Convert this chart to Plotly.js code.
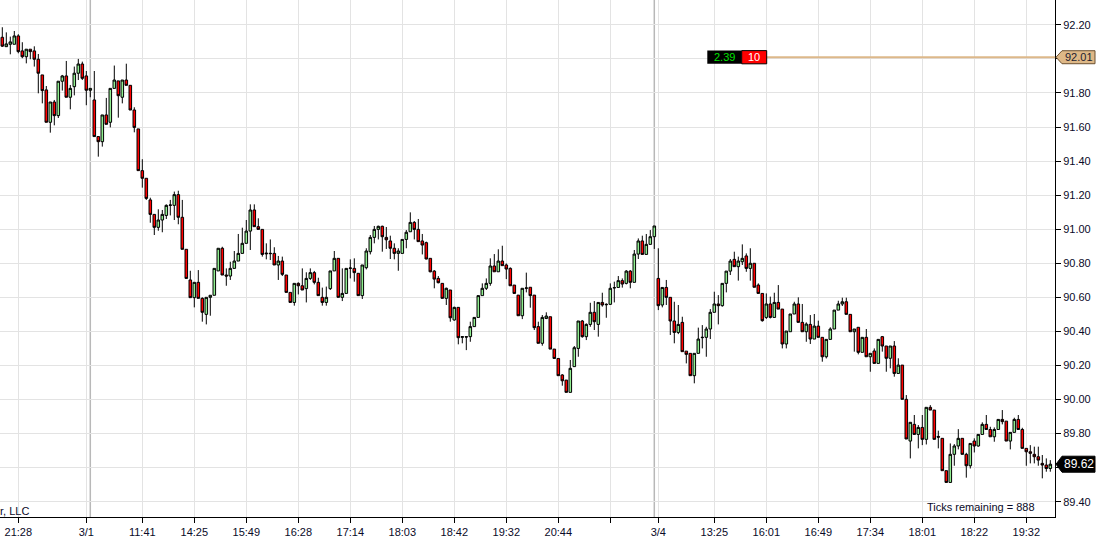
<!DOCTYPE html>
<html><head><meta charset="utf-8">
<script src="https://cdn.plot.ly/plotly-3.0.1.min.js"></script>
<style>html,body{margin:0;padding:0;background:#fff;}#chart{width:1097px;height:544px;}</style>
</head><body><div id="chart"></div>
<script>
const openP = [
92.127,92.072,92.086,92.086,92.135,92.047,92.013,92.057,92.047,91.998,
91.906,91.818,91.628,91.747,91.667,91.869,91.900,91.775,91.837,91.916,
91.970,91.900,91.816,91.759,91.544,91.514,91.671,91.628,91.827,91.871,
91.775,91.876,91.845,91.700,91.589,91.344,91.299,91.172,91.087,91.011,
91.054,91.081,91.140,91.140,91.203,91.070,90.882,90.702,90.598,90.688,
90.594,90.500,90.600,90.612,90.755,90.888,90.731,90.725,90.770,90.813,
90.858,90.917,90.989,91.113,91.015,90.999,90.860,90.856,90.858,90.790,
90.813,90.731,90.629,90.570,90.682,90.668,90.651,90.711,90.745,90.688,
90.600,90.570,90.651,90.755,90.829,90.600,90.623,90.770,90.770,90.741,
90.610,90.774,90.868,90.952,90.999,91.017,90.952,90.931,90.888,90.858,
90.858,90.940,90.985,91.040,90.999,90.931,90.921,90.829,90.754,90.711,
90.682,90.594,90.643,90.467,90.541,90.365,90.369,90.369,90.428,90.482,
90.610,90.653,90.682,90.784,90.750,90.813,90.790,90.770,90.672,90.613,
90.492,90.653,90.659,90.613,90.428,90.330,90.476,90.486,90.296,90.241,
90.144,90.114,90.042,90.193,90.300,90.461,90.369,90.441,90.512,90.441,
90.570,90.559,90.559,90.655,90.658,90.698,90.682,90.754,90.688,90.854,
90.931,90.852,90.911,90.956,90.711,90.555,90.658,90.600,90.461,90.394,
90.453,90.284,90.271,90.140,90.271,90.363,90.365,90.414,90.512,90.561,
90.551,90.682,90.754,90.823,90.780,90.809,90.843,90.770,90.800,90.672,
90.623,90.482,90.561,90.482,90.570,90.531,90.326,90.398,90.502,90.561,
90.453,90.398,90.441,90.355,90.431,90.365,90.251,90.353,90.414,90.525,
90.561,90.574,90.500,90.398,90.424,90.277,90.365,90.251,90.285,90.212,
90.369,90.314,90.242,90.314,90.153,90.202,90.001,89.756,89.854,89.795,
89.836,89.766,89.954,89.938,89.783,89.772,89.582,89.513,89.678,89.727,
89.772,89.678,89.611,89.756,89.727,89.795,89.854,89.824,89.781,89.824,
89.883,89.873,89.756,89.807,89.883,89.824,89.713,89.693,89.678,89.664,
89.625,89.615,89.595];
const highP = [
92.186,92.156,92.131,92.164,92.145,92.098,92.057,92.057,92.074,92.029,
91.906,91.841,91.747,91.759,91.869,91.906,91.988,91.847,91.955,92.000,
91.984,91.929,91.827,91.929,91.544,91.671,91.771,91.827,91.961,91.871,
91.876,91.972,91.845,91.716,91.589,91.411,91.299,91.185,91.087,91.117,
91.113,91.146,91.172,91.221,91.226,91.172,90.882,90.756,90.688,90.760,
90.600,90.600,90.612,90.770,90.888,90.897,90.770,90.809,90.872,90.972,
91.009,91.054,91.146,91.146,91.064,90.999,90.917,90.940,90.894,90.843,
90.839,90.731,90.629,90.682,90.688,90.770,90.747,90.770,90.755,90.715,
90.657,90.663,90.755,90.872,90.829,90.770,90.770,90.823,90.829,90.741,
90.790,90.888,90.966,91.019,91.021,91.021,91.013,90.962,90.917,90.888,
90.940,90.995,91.099,91.048,91.060,90.972,90.927,90.829,90.760,90.725,
90.682,90.657,90.643,90.545,90.541,90.369,90.369,90.457,90.482,90.610,
90.682,90.711,90.829,90.854,90.882,90.903,90.799,90.776,90.672,90.613,
90.653,90.745,90.659,90.613,90.457,90.496,90.512,90.486,90.296,90.241,
90.149,90.114,90.232,90.314,90.461,90.467,90.447,90.568,90.578,90.570,
90.627,90.565,90.682,90.692,90.725,90.711,90.760,90.760,90.878,90.946,
90.962,90.972,90.995,91.019,90.888,90.658,90.702,90.600,90.574,90.555,
90.486,90.284,90.271,90.271,90.422,90.437,90.427,90.531,90.633,90.613,
90.682,90.754,90.825,90.868,90.839,90.911,90.858,90.888,90.800,90.682,
90.623,90.623,90.604,90.627,90.672,90.531,90.402,90.502,90.574,90.600,
90.561,90.453,90.496,90.502,90.463,90.365,90.353,90.424,90.525,90.580,
90.598,90.598,90.500,90.414,90.424,90.365,90.414,90.271,90.300,90.353,
90.373,90.314,90.314,90.343,90.242,90.202,90.026,89.866,89.909,89.850,
89.909,89.954,89.967,89.938,89.817,89.772,89.582,89.742,89.738,89.826,
89.772,89.687,89.742,89.772,89.795,89.866,89.909,89.840,89.836,89.883,
89.938,89.873,89.807,89.893,89.909,89.834,89.713,89.732,89.723,89.723,
89.674,89.654,89.644];
const lowP = [
92.070,92.070,92.027,92.086,92.033,92.004,91.974,91.998,91.955,91.798,
91.739,91.628,91.567,91.610,91.653,91.814,91.775,91.704,91.786,91.876,
91.876,91.728,91.775,91.544,91.426,91.485,91.616,91.598,91.827,91.655,
91.739,91.845,91.700,91.569,91.344,91.244,91.172,91.038,90.966,90.991,
90.982,91.060,91.081,91.054,91.029,90.882,90.711,90.598,90.541,90.594,
90.457,90.441,90.492,90.612,90.755,90.731,90.668,90.702,90.770,90.813,
90.858,90.917,90.878,91.015,90.999,90.839,90.823,90.819,90.790,90.702,
90.725,90.629,90.570,90.551,90.617,90.643,90.570,90.702,90.676,90.610,
90.551,90.551,90.643,90.755,90.600,90.578,90.623,90.711,90.692,90.610,
90.590,90.764,90.852,90.917,90.940,90.868,90.884,90.825,90.823,90.756,
90.858,90.888,90.985,90.940,90.927,90.852,90.823,90.747,90.653,90.682,
90.594,90.555,90.457,90.463,90.324,90.330,90.290,90.339,90.428,90.482,
90.610,90.643,90.668,90.750,90.750,90.786,90.707,90.668,90.623,90.492,
90.472,90.629,90.539,90.408,90.330,90.316,90.472,90.296,90.241,90.140,
90.081,90.042,90.042,90.193,90.251,90.363,90.349,90.427,90.408,90.369,
90.545,90.480,90.555,90.570,90.658,90.657,90.676,90.653,90.688,90.825,
90.852,90.852,90.911,90.884,90.525,90.541,90.555,90.379,90.330,90.384,
90.281,90.212,90.140,90.095,90.271,90.300,90.251,90.355,90.512,90.441,
90.545,90.629,90.731,90.780,90.698,90.790,90.750,90.698,90.659,90.623,
90.457,90.473,90.476,90.482,90.531,90.300,90.300,90.398,90.502,90.453,
90.398,90.339,90.326,90.355,90.365,90.222,90.241,90.353,90.414,90.525,
90.549,90.500,90.398,90.281,90.265,90.277,90.251,90.163,90.212,90.212,
90.281,90.163,90.183,90.134,90.153,90.001,89.768,89.654,89.795,89.713,
89.732,89.736,89.938,89.766,89.713,89.582,89.513,89.513,89.611,89.707,
89.678,89.541,89.595,89.689,89.723,89.795,89.824,89.781,89.752,89.824,
89.854,89.756,89.707,89.807,89.824,89.713,89.611,89.625,89.625,89.611,
89.537,89.576,89.576];
const closeP = [
92.075,92.088,92.100,92.135,92.043,92.013,92.057,92.043,91.998,91.916,
91.814,91.628,91.747,91.667,91.869,91.900,91.775,91.827,91.916,91.970,
91.886,91.816,91.827,91.544,91.514,91.671,91.616,91.827,91.876,91.784,
91.876,91.845,91.700,91.598,91.344,91.299,91.181,91.087,91.011,91.054,
91.087,91.140,91.142,91.203,91.070,90.882,90.711,90.598,90.688,90.594,
90.512,90.600,90.612,90.770,90.888,90.731,90.725,90.770,90.813,90.858,
90.917,90.989,91.113,91.015,90.999,90.852,90.856,90.858,90.790,90.813,
90.735,90.629,90.570,90.682,90.668,90.643,90.711,90.745,90.688,90.610,
90.570,90.600,90.755,90.829,90.600,90.623,90.770,90.772,90.745,90.610,
90.790,90.872,90.952,90.999,91.017,90.956,90.938,90.888,90.858,90.872,
90.940,90.982,91.040,90.999,90.927,90.907,90.825,90.750,90.707,90.686,
90.594,90.653,90.480,90.541,90.363,90.369,90.367,90.428,90.482,90.610,
90.653,90.682,90.784,90.750,90.813,90.786,90.766,90.668,90.623,90.492,
90.653,90.655,90.610,90.422,90.330,90.482,90.490,90.296,90.241,90.140,
90.110,90.042,90.183,90.304,90.461,90.369,90.441,90.512,90.457,90.570,
90.555,90.557,90.653,90.657,90.698,90.678,90.754,90.688,90.854,90.931,
90.852,90.911,90.956,91.019,90.551,90.658,90.600,90.461,90.394,90.441,
90.281,90.265,90.140,90.271,90.355,90.365,90.414,90.512,90.561,90.551,
90.682,90.754,90.813,90.780,90.813,90.829,90.770,90.800,90.659,90.623,
90.463,90.561,90.482,90.570,90.531,90.326,90.402,90.502,90.561,90.453,
90.398,90.443,90.355,90.431,90.365,90.251,90.353,90.414,90.525,90.561,
90.574,90.500,90.398,90.414,90.277,90.365,90.251,90.271,90.212,90.353,
90.314,90.242,90.314,90.153,90.202,90.001,89.768,89.866,89.795,89.836,
89.766,89.954,89.938,89.766,89.779,89.582,89.513,89.678,89.727,89.772,
89.678,89.611,89.742,89.727,89.795,89.854,89.824,89.781,89.824,89.883,
89.870,89.756,89.807,89.883,89.824,89.713,89.693,89.684,89.664,89.644,
89.615,89.595,89.620];

const tickIdx    = [4, 21, 35, 48, 61, 74, 87, 100, 113, 126, 139, 152, 164, 178, 191, 204, 217, 230, 243, 256];
const tickLabels = ['21:28','3/1','11:41','14:25','15:49','16:28','17:14','18:03','18:42','19:32','20:44','','3/4','13:25','16:01','16:49','17:34','18:01','18:22','19:32'];
const priceTicks      = [89.40, 89.60, 89.80, 90.00, 90.20, 90.40, 90.60, 90.80, 91.00, 91.20, 91.40, 91.60, 91.80, 92.00, 92.20];
const priceTickLabels = ['89.40', '', '89.80', '90.00', '90.20', '90.40', '90.60', '90.80', '91.00', '91.20', '91.40', '91.60', '91.80', '', '92.20'];
const daySeparators = [22, 163];
const orderPrice = 92.01;
const orderQtyText = '2.39';
const orderCountText = '10';
const ticksRemaining = 'Ticks remaining = 888';
const watermark = 'r, LLC';

const barIndex = openP.map((_, i) => i);
const lastPrice = closeP[closeP.length - 1];

// layout helpers (pixel -> paper within the 1055px-wide plot)
const PW = 1055, PH = 517;
const px = p => p / PW;
const yUnitsPerPx = (92.346 - 89.310) / PH;
const FONT = 'Liberation Sans, Arial, sans-serif';
const TXT = '#0a0a28';

const trace = {
  type: 'candlestick',
  x: barIndex, open: openP, high: highP, low: lowP, close: closeP,
  increasing: {line: {color: '#000000', width: 1}, fillcolor: '#90EE90'},
  decreasing: {line: {color: '#000000', width: 1}, fillcolor: '#FF0000'},
  whiskerwidth: 0,
  hoverinfo: 'skip'
};

function tagPath(price, halfPx) {
  const h = halfPx * yUnitsPerPx;
  return 'M ' + px(1056) + ' ' + price +
         ' L ' + px(1062) + ' ' + (price + h) +
         ' L ' + px(1095) + ' ' + (price + h) +
         ' L ' + px(1095) + ' ' + (price - h) +
         ' L ' + px(1062) + ' ' + (price - h) + ' Z';
}

const shapes = [];
daySeparators.forEach(d => shapes.push({
  type: 'line', xref: 'x', yref: 'paper', x0: d, x1: d, y0: 0, y1: 1,
  line: {color: '#b8b8b8', width: 1.5}, layer: 'below'
}));
// order line
shapes.push({type: 'line', xref: 'paper', yref: 'y', x0: px(766.7), x1: 1, y0: orderPrice, y1: orderPrice,
  line: {color: '#DDB88A', width: 2}});
// order boxes
const bh = 6.6 * yUnitsPerPx;
shapes.push({type: 'rect', xref: 'paper', yref: 'y', x0: px(707.3), x1: px(741.7), y0: orderPrice - bh, y1: orderPrice + bh,
  fillcolor: '#000000', line: {width: 0}});
shapes.push({type: 'rect', xref: 'paper', yref: 'y', x0: px(741.7), x1: px(766.7), y0: orderPrice - bh, y1: orderPrice + bh,
  fillcolor: '#FF0000', line: {color: '#000000', width: 1}});
// price tags
shapes.push({type: 'path', xref: 'paper', yref: 'y', path: tagPath(orderPrice, 6.5),
  fillcolor: '#DEB887', line: {color: '#6b5030', width: 1}});
shapes.push({type: 'path', xref: 'paper', yref: 'y', path: tagPath(lastPrice, 8),
  fillcolor: '#000000', line: {color: '#000000', width: 1}});

const annotations = [
  {xref: 'paper', yref: 'y', x: px((707.3 + 741.7) / 2), y: orderPrice, text: orderQtyText, showarrow: false,
   font: {family: FONT, size: 11, color: '#00e000'}, xanchor: 'center', yanchor: 'middle'},
  {xref: 'paper', yref: 'y', x: px((741.7 + 766.7) / 2), y: orderPrice, text: orderCountText, showarrow: false,
   font: {family: FONT, size: 11, color: '#ffffff'}, xanchor: 'center', yanchor: 'middle'},
  {xref: 'paper', yref: 'y', x: px(1078.5), y: orderPrice, text: orderPrice.toFixed(2), showarrow: false,
   font: {family: FONT, size: 11, color: '#1c1c30'}, xanchor: 'center', yanchor: 'middle'},
  {xref: 'paper', yref: 'y', x: px(1078.5), y: lastPrice, text: lastPrice.toFixed(2), showarrow: false,
   font: {family: FONT, size: 12, color: '#ffffff'}, xanchor: 'center', yanchor: 'middle'},
  {xref: 'paper', yref: 'paper', x: px(1037), y: (PH - 506.8) / PH, text: ticksRemaining, showarrow: false,
   font: {family: FONT, size: 11, color: TXT}, xanchor: 'right', yanchor: 'middle'},
  {xref: 'paper', yref: 'paper', x: px(-2), y: (PH - 511) / PH, text: watermark, showarrow: false,
   font: {family: FONT, size: 11, color: TXT}, xanchor: 'left', yanchor: 'middle'}
];

const layout = {
  width: 1097, height: 544,
  margin: {l: 0, r: 42, t: 0, b: 27, pad: 0},
  paper_bgcolor: '#ffffff', plot_bgcolor: '#ffffff',
  showlegend: false,
  boxgap: 0.2, boxgroupgap: 0.2,
  font: {family: FONT, size: 11, color: TXT},
  xaxis: {
    type: 'linear', range: [-0.575, 263.175], rangeslider: {visible: false},
    tickmode: 'array', tickvals: tickIdx, ticktext: tickLabels,
    showgrid: true, gridcolor: '#e3e3e3', gridwidth: 1,
    ticks: 'outside', ticklen: 5, tickcolor: '#000000', tickwidth: 1,
    showline: true, linecolor: '#000000', linewidth: 1, zeroline: false,
    tickfont: {family: FONT, size: 11, color: TXT}, fixedrange: true
  },
  yaxis: {
    side: 'right', range: [89.310, 92.346],
    tickmode: 'array', tickvals: priceTicks, ticktext: priceTickLabels,
    showgrid: true, gridcolor: '#e3e3e3', gridwidth: 1,
    ticks: 'outside', ticklen: 5, tickcolor: '#000000', tickwidth: 1,
    showline: true, linecolor: '#000000', linewidth: 1, zeroline: false,
    tickfont: {family: FONT, size: 11, color: TXT}, fixedrange: true
  },
  shapes: shapes,
  annotations: annotations
};

Plotly.newPlot('chart', [trace], layout, {staticPlot: true, displayModeBar: false});
</script></body></html>
